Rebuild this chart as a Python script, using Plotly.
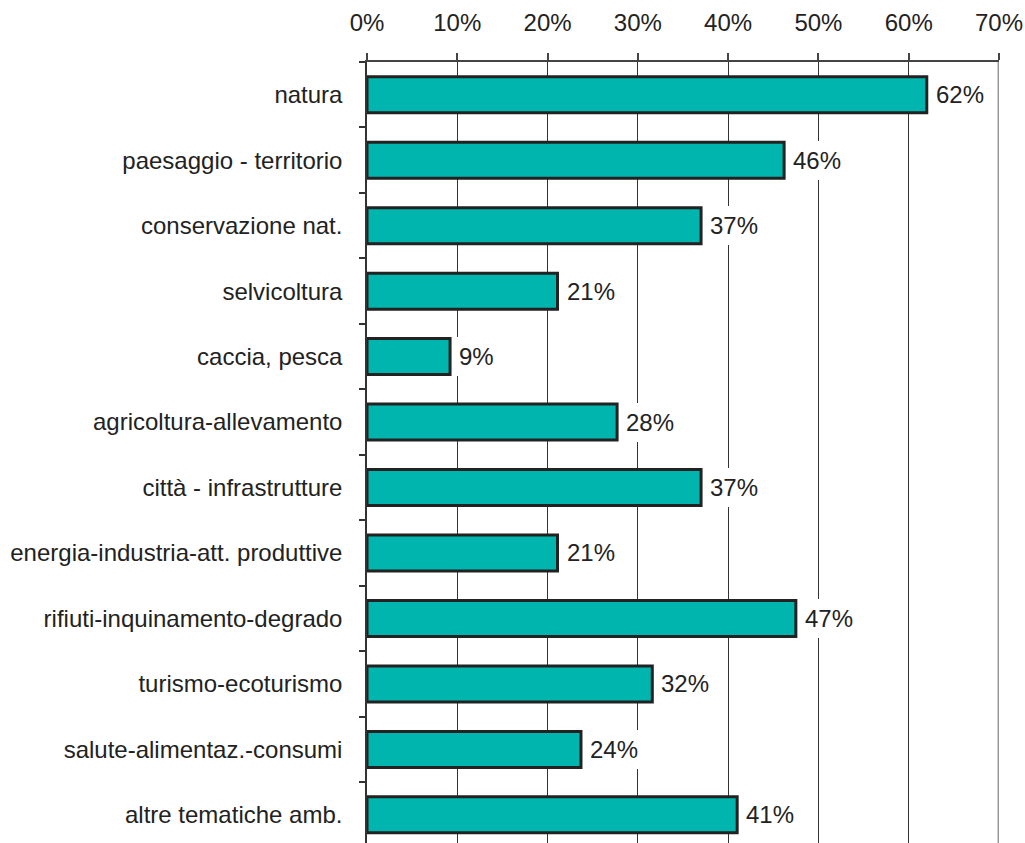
import plotly.graph_objects as go

categories = ["natura", "paesaggio - territorio", "conservazione nat.", "selvicoltura",
              "caccia, pesca", "agricoltura-allevamento", "città - infrastrutture",
              "energia-industria-att. produttive", "rifiuti-inquinamento-degrado",
              "turismo-ecoturismo", "salute-alimentaz.-consumi", "altre tematiche amb."]
values = [62.0, 46.2, 37.0, 21.1, 9.2, 27.7, 37.0, 21.1, 47.5, 31.6, 23.7, 41.0]
labels = ["62%", "46%", "37%", "21%", "9%", "28%", "37%", "21%", "47%", "32%", "24%", "41%"]
tick_vals = [0, 10, 20, 30, 40, 50, 60, 70]
tick_text = ["0%", "10%", "20%", "30%", "40%", "50%", "60%", "70%"]

FONT = "Liberation Sans, Arial, sans-serif"
FS = 24

fig = go.Figure(go.Bar(
    x=values, y=categories, orientation="h",
    marker=dict(color="#00B5AD", line=dict(color="#222222", width=3)),
    width=0.55,
    hoverinfo="x+y",
))

for v, c, t in zip(values, categories, labels):
    fig.add_annotation(x=v, y=c, xref="x", yref="y", text=t, showarrow=False,
                       xanchor="left", yanchor="middle", xshift=3,
                       bgcolor="white", borderpad=6, borderwidth=0,
                       font=dict(size=FS, color="#222222", family=FONT))

fig.update_layout(
    width=1025, height=843,
    margin=dict(l=367, r=26, t=62, b=0),
    paper_bgcolor="white", plot_bgcolor="white",
    font=dict(family=FONT, size=FS, color="#222222"),
    showlegend=False,
    xaxis=dict(
        side="top", range=[0, 70], tickvals=tick_vals, ticktext=tick_text,
        showgrid=True, gridcolor="#333333", gridwidth=1,
        showline=True, linecolor="#444444", linewidth=1.5,
        ticks="outside", ticklen=7, tickcolor="#444444", tickwidth=1.5,
        ticklabelstandoff=13, zeroline=False,
        tickfont=dict(size=FS, color="#222222"),
    ),
    yaxis=dict(
        categoryorder="array", categoryarray=categories,
        autorange=False, range=[11.43, -0.5],
        showline=True, linecolor="#333333", linewidth=1.5,
        ticks="outside", ticklen=6, tickcolor="#333333", tickwidth=1.5,
        tickson="boundaries", ticklabelstandoff=18,
        showgrid=False, zeroline=False,
        tickfont=dict(size=FS, color="#222222"),
    ),
)

fig.add_shape(type="line", xref="x", yref="paper", x0=70, x1=70, y0=0, y1=1,
              line=dict(color="#999999", width=3), layer="above")

fig.write_html("out.html")
